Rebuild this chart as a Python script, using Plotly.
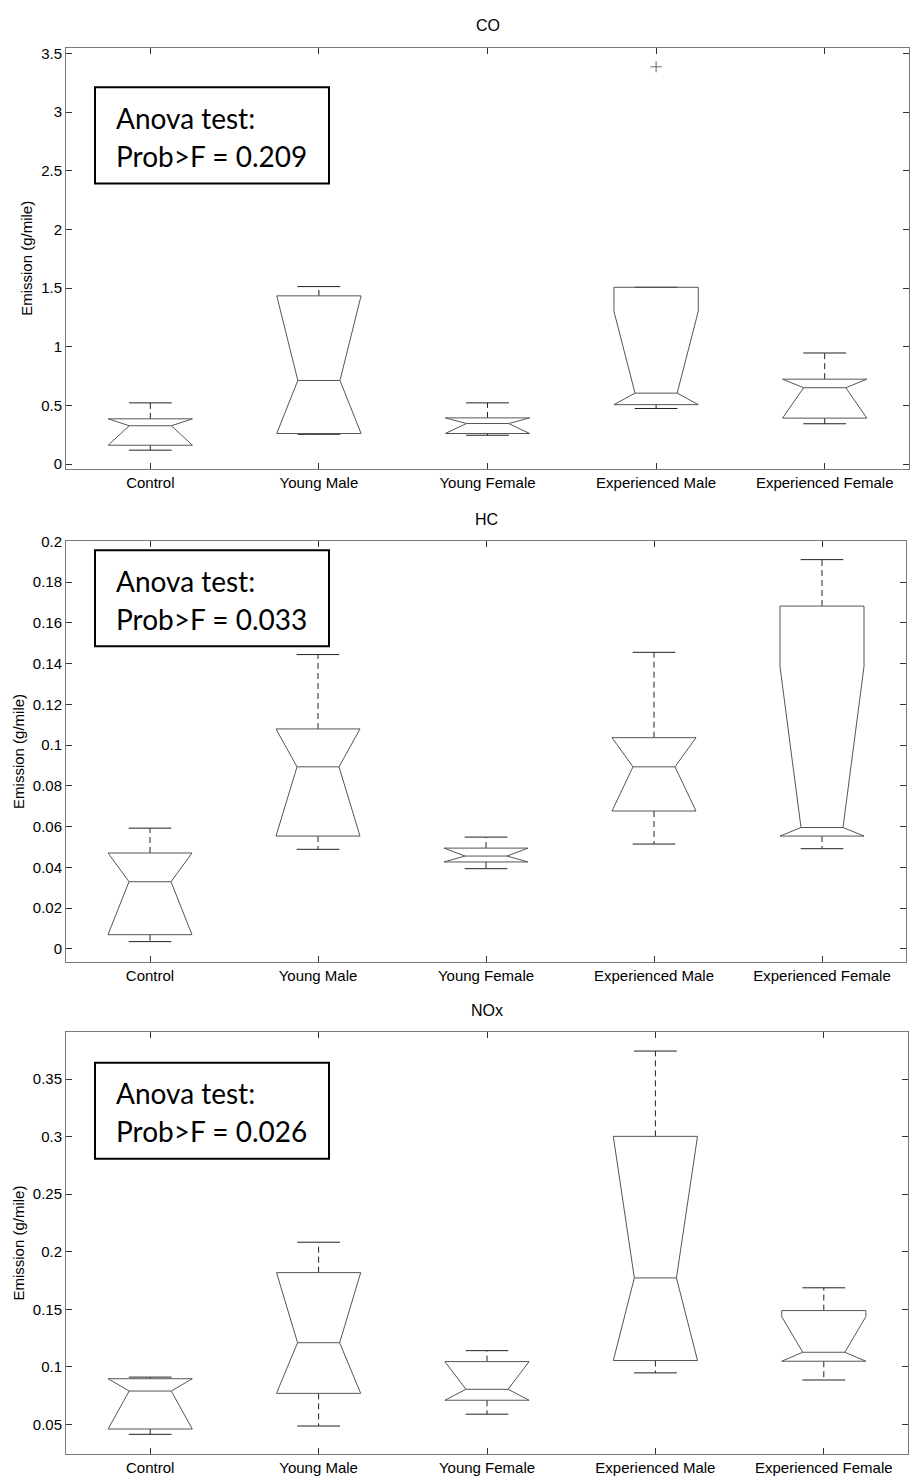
import plotly.graph_objects as go

W, H = 910, 1484

categories = ["Control", "Young Male", "Young Female", "Experienced Male", "Experienced Female"]
positions = [1, 2, 3, 4, 5]

# ---- CO ----
co_upper_whisker = [0.523, 1.514, 0.523, 1.508, 0.948]
co_q3 = [0.387, 1.435, 0.395, 1.508, 0.725]
co_notch_hi = [0.387, 1.435, 0.395, 1.303, 0.725]
co_median = [0.328, 0.714, 0.347, 0.606, 0.652]
co_notch_lo = [0.162, 0.262, 0.262, 0.508, 0.393]
co_q1 = [0.162, 0.262, 0.262, 0.508, 0.393]
co_lower_whisker = [0.120, 0.255, 0.247, 0.475, 0.345]
co_outlier_pos = [4]
co_outlier_val = [3.387]
co_ticks = [0, 0.5, 1, 1.5, 2, 2.5, 3, 3.5]
co_ticklabels = ["0", "0.5", "1", "1.5", "2", "2.5", "3", "3.5"]

# ---- HC ----
hc_upper_whisker = [0.0593, 0.1445, 0.0549, 0.1456, 0.1911]
hc_q3 = [0.0471, 0.1080, 0.0495, 0.1037, 0.1683]
hc_notch_hi = [0.0471, 0.1080, 0.0495, 0.1037, 0.1386]
hc_median = [0.0330, 0.0894, 0.0456, 0.0894, 0.0596]
hc_notch_lo = [0.0070, 0.0554, 0.0427, 0.0677, 0.0554]
hc_q1 = [0.0070, 0.0554, 0.0427, 0.0677, 0.0554]
hc_lower_whisker = [0.0036, 0.0489, 0.0394, 0.0515, 0.0492]
hc_ticks = [0, 0.02, 0.04, 0.06, 0.08, 0.1, 0.12, 0.14, 0.16, 0.18, 0.2]
hc_ticklabels = ["0", "0.02", "0.04", "0.06", "0.08", "0.1", "0.12", "0.14", "0.16", "0.18", "0.2"]

# ---- NOx ----
nox_upper_whisker = [0.0911, 0.2083, 0.1141, 0.3744, 0.1687]
nox_q3 = [0.0897, 0.1819, 0.1046, 0.3003, 0.1489]
nox_notch_hi = [0.0897, 0.1819, 0.1046, 0.3003, 0.1437]
nox_median = [0.0790, 0.1210, 0.0805, 0.1773, 0.1127]
nox_notch_lo = [0.0460, 0.0770, 0.0710, 0.1055, 0.1049]
nox_q1 = [0.0460, 0.0770, 0.0710, 0.1055, 0.1049]
nox_lower_whisker = [0.0414, 0.0486, 0.0589, 0.0948, 0.0886]
nox_ticks = [0.05, 0.1, 0.15, 0.2, 0.25, 0.3, 0.35]
nox_ticklabels = ["0.05", "0.1", "0.15", "0.2", "0.25", "0.3", "0.35"]

titles = ["CO", "HC", "NOx"]
anova_p = ["0.209", "0.033", "0.026"]

panels = [
    dict(uw=co_upper_whisker, q3=co_q3, nhi=co_notch_hi, med=co_median, nlo=co_notch_lo,
         q1=co_q1, lw=co_lower_whisker, ticks=co_ticks, labels=co_ticklabels,
         yrange=[-0.04, 3.55], top=39, bottom=464, left=66, right=909, boxtop=79,
         outx=co_outlier_pos, outy=co_outlier_val),
    dict(uw=hc_upper_whisker, q3=hc_q3, nhi=hc_notch_hi, med=hc_median, nlo=hc_notch_lo,
         q1=hc_q1, lw=hc_lower_whisker, ticks=hc_ticks, labels=hc_ticklabels,
         yrange=[-0.0062, 0.2001], top=537, bottom=961, left=66, right=906, boxtop=546,
         outx=[], outy=[]),
    dict(uw=nox_upper_whisker, q3=nox_q3, nhi=nox_notch_hi, med=nox_median, nlo=nox_notch_lo,
         q1=nox_q1, lw=nox_lower_whisker, ticks=nox_ticks, labels=nox_ticklabels,
         yrange=[0.0241, 0.391], top=1032, bottom=1458, left=66, right=908, boxtop=1063,
         outx=[], outy=[]),
]

BOX_HW = 0.25
NOTCH_HW = 0.125
CAP_HW = 0.127
BOX_COLOR = "#555555"
WHISK_COLOR = "#222222"
AXIS_COLOR = "#7a7a7a"
FONT = "Liberation Sans, Arial, sans-serif"

fig = go.Figure()
layout = dict(width=W, height=H, margin=dict(l=0, r=0, t=0, b=0, pad=0),
              paper_bgcolor="white", plot_bgcolor="white", showlegend=False,
              annotations=[], shapes=[])

for i, p in enumerate(panels):
    sfx = "" if i == 0 else str(i + 1)
    xa, ya = "x" + sfx, "y" + sfx
    bx, by, mx, my = [], [], [], []
    wx, wy, cx, cy = [], [], [], []
    for k, x in enumerate(positions):
        l, r = x - BOX_HW, x + BOX_HW
        nl, nr = x - NOTCH_HW, x + NOTCH_HW
        bx += [l, l, nl, l, l, r, r, nr, r, r, l, None]
        by += [p["q1"][k], p["nlo"][k], p["med"][k], p["nhi"][k], p["q3"][k],
               p["q3"][k], p["nhi"][k], p["med"][k], p["nlo"][k], p["q1"][k], p["q1"][k], None]
        mx += [nl, nr, None]
        my += [p["med"][k], p["med"][k], None]
        wx += [x, x, None, x, x, None]
        wy += [p["q3"][k], p["uw"][k], None, p["q1"][k], p["lw"][k], None]
        cx += [x - CAP_HW, x + CAP_HW, None, x - CAP_HW, x + CAP_HW, None]
        cy += [p["uw"][k], p["uw"][k], None, p["lw"][k], p["lw"][k], None]
    fig.add_trace(go.Scatter(x=wx, y=wy, mode="lines", xaxis=xa, yaxis=ya,
                             line=dict(color=WHISK_COLOR, width=1, dash="6px,4px"), hoverinfo="skip"))
    fig.add_trace(go.Scatter(x=cx, y=cy, mode="lines", xaxis=xa, yaxis=ya,
                             line=dict(color=WHISK_COLOR, width=1), hoverinfo="skip"))
    fig.add_trace(go.Scatter(x=bx, y=by, mode="lines", xaxis=xa, yaxis=ya,
                             line=dict(color=BOX_COLOR, width=1), hoverinfo="skip"))
    fig.add_trace(go.Scatter(x=mx, y=my, mode="lines", xaxis=xa, yaxis=ya,
                             line=dict(color=BOX_COLOR, width=1), hoverinfo="skip"))
    if p["outx"]:
        fig.add_trace(go.Scatter(x=p["outx"], y=p["outy"], mode="markers", xaxis=xa, yaxis=ya,
                                 marker=dict(symbol="cross-thin", size=8,
                                             line=dict(color="#666666", width=1)),
                                 hoverinfo="skip"))

    xdom = [p["left"] / W, p["right"] / W]
    ydom = [1 - p["bottom"] / H, 1 - p["top"] / H]
    layout["xaxis" + sfx] = dict(
        domain=xdom, anchor=ya, range=[0.5, 5.5], tickvals=positions, ticktext=categories,
        ticks="inside", ticklen=6, tickcolor="#333333", showline=True, linecolor=AXIS_COLOR,
        linewidth=1, mirror="ticks", showgrid=False, zeroline=False,
        tickfont=dict(family=FONT, size=15, color="black"))
    layout["yaxis" + sfx] = dict(
        domain=ydom, anchor=xa, range=p["yrange"], tickvals=p["ticks"], ticktext=p["labels"],
        ticks="inside", ticklen=6, tickcolor="#333333", showline=True, linecolor=AXIS_COLOR,
        linewidth=1, mirror="ticks", showgrid=False, zeroline=False,
        tickfont=dict(family=FONT, size=15, color="black"),
        title=dict(text="Emission (g/mile)", font=dict(family=FONT, size=15, color="black"),
                   standoff=4))

    layout["annotations"].append(dict(
        text=titles[i], x=(p["left"] + p["right"]) / 2 / W, y=1 - (p["top"] - 22) / H,
        xref="paper", yref="paper", showarrow=False, xanchor="center", yanchor="middle",
        font=dict(family=FONT, size=16, color="black")))

    bt = p["boxtop"]
    layout["shapes"].append(dict(
        type="rect", xref="paper", yref="paper",
        x0=95 / W, x1=329 / W, y0=1 - (bt + 97) / H, y1=1 - bt / H,
        line=dict(color="black", width=2), fillcolor="white"))
    for j, line in enumerate(["Anova test:", "Prob>F = " + anova_p[i]]):
        layout["annotations"].append(dict(
            text=line, x=114 / W, y=1 - (bt + 31 + 38 * j) / H, xref="paper", yref="paper",
            showarrow=False, xanchor="left", yanchor="middle",
            font=dict(family="Lato, Open Sans, sans-serif", size=28, color="black")))

fig.update_layout(**layout)
fig.write_html("out.html", config={"displayModeBar": False},
               post_script="document.body.style.margin='0';document.body.style.overflow='hidden';")
